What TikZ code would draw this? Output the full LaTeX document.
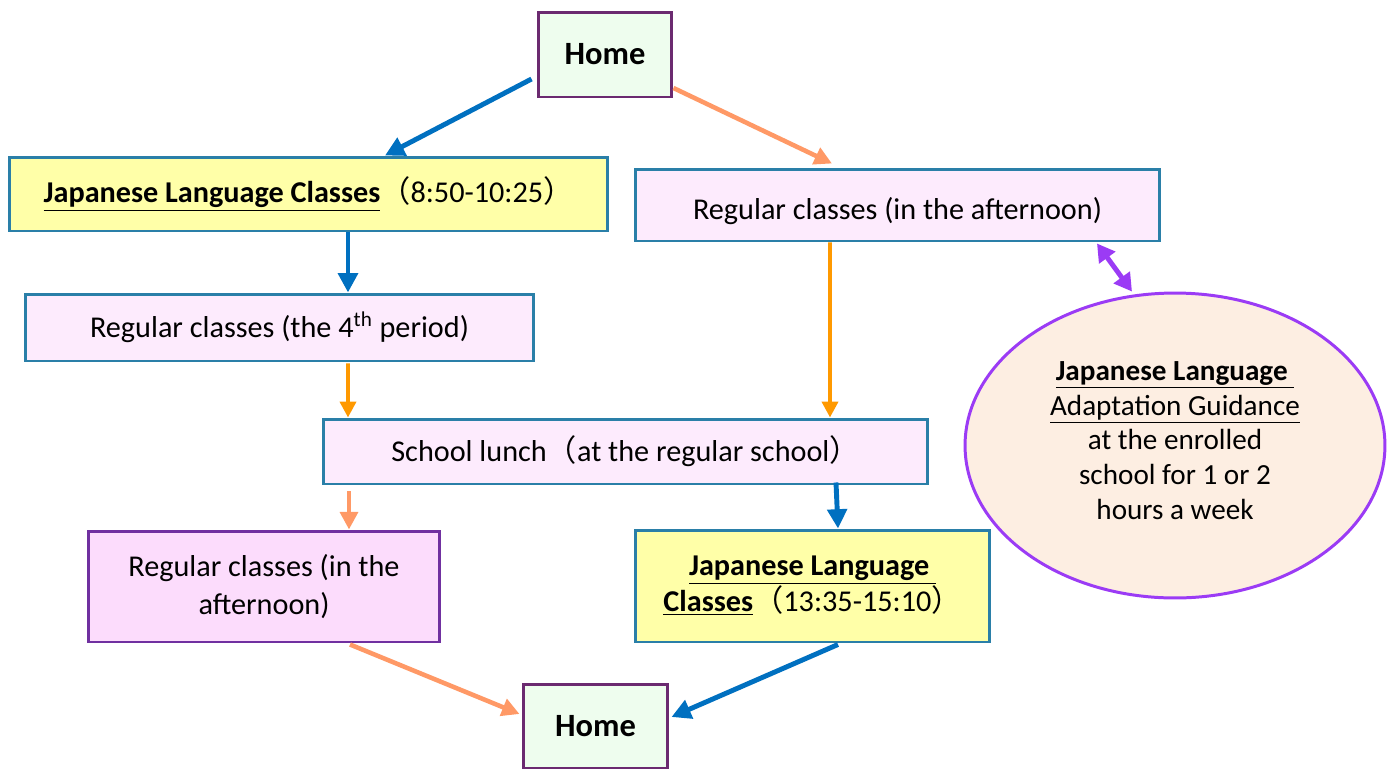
\documentclass[tikz,border=0pt]{standalone}
\usepackage{fontspec}
\setmainfont{Carlito}
\newfontfamily\cjk{Noto Sans CJK JP}
\usepackage{tikz}
\usetikzlibrary{positioning, calc, arrows.meta, shapes.geometric}
\definecolor{jblue}{HTML}{0070C0}
\definecolor{salmon}{HTML}{FF9966}
\definecolor{amber}{HTML}{FF9900}
\definecolor{violet}{HTML}{9B3BF5}
\definecolor{tealb}{HTML}{2A7FA8}
\definecolor{plum}{HTML}{6B2A70}
\definecolor{grape}{HTML}{7030A0}
\definecolor{homefill}{HTML}{EEFDEE}
\definecolor{jlcfill}{HTML}{FFFFA8}
\definecolor{regfill}{HTML}{FDEBFD}
\definecolor{regfillb}{HTML}{FCDCFC}
\definecolor{guidefill}{HTML}{FDEEE2}
\newcommand{\fb}[1]{{\cjk #1}}
\begin{document}
\begin{tikzpicture}[x=0.02cm,y=-0.02cm,font=\fontsize{17.2}{21}\selectfont,
box/.style={draw=tealb, line width=1.7pt, fill=regfill, align=center, inner sep=0pt},
homebox/.style={draw=plum, line width=1.7pt, fill=homefill, font=\fontsize{18.5}{21}\selectfont\bfseries},
bluearr/.style={draw=jblue, line width=2.8pt, -{Triangle[length=11pt,width=11pt]}},
salarr/.style={draw=salmon, line width=2.6pt, -{Triangle[length=10pt,width=10pt]}},
ambarr/.style={draw=amber, line width=2.2pt, -{Triangle[length=9pt,width=9pt]}}]
\useasboundingbox (0,0) rectangle (1394,769);
% boxes
\node[homebox, minimum width=2.68cm, minimum height=1.7cm] (home1) at (605,54.5) {Home};
\node[box, fill=jlcfill, minimum width=11.98cm, minimum height=1.48cm] (jlc1) at (308.5,194) {\underline{\textbf{Japanese Language Classes}}\fb{（}8:50-10:25\fb{）}};
\node[box, minimum width=10.5cm, minimum height=1.44cm, text height=20pt, text depth=4pt] (regA) at (897.5,205) {Regular classes (in the afternoon)};
\node[box, minimum width=10.18cm, minimum height=1.34cm] (reg4) at (279.5,327.5) {Regular classes (the 4\textsuperscript{th} period)};
\node[box, minimum width=12.1cm, minimum height=1.3cm] (lunch) at (625.5,451.5) {School lunch\fb{（}at the regular school\fb{）}};
\node[box, draw=grape, fill=regfillb, minimum width=7.04cm, minimum height=2.22cm, font=\fontsize{17.2}{21.5pt}\selectfont] (regB) at (264,586.5) {Regular classes (in the\\afternoon)};
\node[box, fill=jlcfill, minimum width=7.1cm, minimum height=2.24cm, font=\fontsize{17.2}{20.5pt}\selectfont] (jlc2) at (812.5,586) {\underline{\textbf{Japanese Language\ }}\\\underline{\textbf{Classes}}\fb{（}13:35-15:10\fb{）}};
\node[homebox, minimum width=2.9cm, minimum height=1.68cm] (home2) at (595.5,726) {Home};
\node[ellipse, draw=violet, line width=1.7pt, fill=guidefill, minimum width=8.4cm, minimum height=6.1cm, align=center, font=\fontsize{16.6}{19.8pt}\selectfont] (guide) at (1175,445.5) {\underline{\textbf{Japanese Language\ }}\\\underline{Adaptation Guidance}\\at the enrolled\\school for 1 or 2\\hours a week\\[-14pt]};
% connectors
\draw[bluearr] ($(home1.west)+(-5,24.5)$) -- ($(jlc1.north)+(76.5,0)$);
\draw[salarr] ($(home1.east)+(0,33.5)$) -- ($(regA.north)+(-65.5,-4)$);
\draw[bluearr] ($(jlc1.south)+(39.5,0)$) -- ($(reg4.north)+(68.5,0)$);
\draw[ambarr] ($(reg4.south)+(68.5,1)$) -- ($(lunch.north)+(-277.5,0)$);
\draw[ambarr] ($(regA.south)+(-67.5,0)$) -- ($(lunch.north)+(204.5,0)$);
\draw[draw=violet, line width=2.8pt, {Triangle[length=10pt,width=11pt]}-{Triangle[length=10pt,width=11pt]}] ($(regA.south)+(199.5,1)$) -- ($(guide.north)+(-43,0)$);
\draw[salarr] ($(lunch.south)+(-276.5,6)$) -- ($(regB.north)+(85,0)$);
\draw[bluearr] ($(lunch.south)+(210.5,-3)$) -- ($(jlc2.north)+(25.5,0)$);
\draw[salarr] ($(regB.south)+(86,1)$) -- ($(home2.west)+(-2,-12)$);
\draw[bluearr] ($(jlc2.south)+(25.5,1)$) -- ($(home2.east)+(2,-9)$);
\end{tikzpicture}
\end{document}
